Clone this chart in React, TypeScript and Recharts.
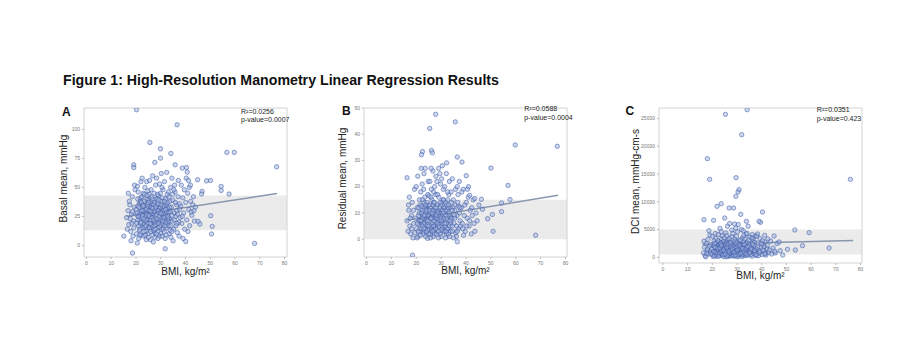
import { ScatterChart, Scatter, XAxis, YAxis, ReferenceArea, ReferenceLine } from 'recharts';

type Pt = [number, number];

const FONT = 'Liberation Sans, Arial, sans-serif';

const bmiTicks = [0, 10, 20, 30, 40, 50, 60, 70, 80];
const basalTicks = [0, 25, 50, 75, 100];
const residualTicks = [0, 10, 20, 30, 40, 50];
const dciTicks = [0, 5000, 10000, 15000, 20000, 25000];

// panel A: basal mean vs BMI
const basalCluster: Pt[] = [
  [16.2,24],[16.8,30],[17.1,18],[17.5,35],[17.9,12],[18.2,27],[18.5,42],[18.8,8],[19.0,21],[19.3,33],[19.6,48],[16.5,14],[17.3,38],[18.0,4],[19.1,15],[18.6,29],[17.7,23],[19.4,52],[16.9,45],[18.3,19],
  [20.1,31],[20.4,26],[20.7,40],[21.0,17],[21.3,36],[21.6,22],[20.2,10],[20.9,46],[21.8,29],[22.0,55],[20.5,2],[21.1,6],[21.4,13],[20.8,34],[21.9,41],[20.3,19],[21.5,27],[22.1,9],[20.6,51],[21.7,38],
  [22.3,24],[22.6,32],[22.9,45],[23.2,18],[23.5,28],[23.8,36],[24.1,12],[24.4,40],[24.7,22],[25.0,30],[22.5,58],[23.0,8],[23.6,50],[24.2,5],[24.8,47],[22.8,15],[23.3,38],[23.9,26],[24.5,33],[25.1,16],[22.4,42],[23.1,29],[23.7,21],[24.3,55],[24.9,10],[22.7,35],[23.4,44],[24.0,31],[24.6,19],[25.2,39],
  [25.4,25],[25.7,34],[26.0,14],[26.3,42],[26.6,28],[26.9,20],[27.2,37],[27.5,11],[27.8,31],[25.5,56],[25.8,5],[26.1,48],[26.4,18],[26.7,60],[27.0,3],[27.3,45],[27.6,24],[27.9,52],[25.6,30],[26.2,36],[26.8,9],[27.4,17],[28.0,40],[25.9,22],[26.5,33],[27.1,27],[27.7,7],[25.3,44],[26.0,38],[27.0,13],
  [28.2,26],[28.5,35],[28.8,15],[29.1,43],[29.4,21],[29.7,30],[30.0,10],[30.3,38],[30.6,24],[30.9,48],[28.3,58],[28.9,6],[29.5,53],[30.1,18],[30.7,33],[28.6,40],[29.2,28],[29.8,45],[30.4,14],[31.0,27],[28.4,20],[29.0,36],[29.6,8],[30.2,62],[30.8,41],[28.7,12],[29.3,32],[29.9,23],[30.5,50],[31.1,19],
  [31.3,30],[31.6,22],[31.9,40],[32.2,15],[32.5,34],[32.8,27],[33.1,46],[33.4,10],[33.7,38],[31.5,55],[31.8,6],[32.1,25],[32.4,63],[32.7,19],[33.0,32],[33.3,42],[33.6,23],[34.0,50],[31.4,12],[32.0,36],[32.6,44],[33.2,17],[33.8,29],[34.1,7],
  [34.3,33],[34.6,21],[34.9,39],[35.2,14],[35.5,28],[35.8,46],[36.1,25],[36.4,35],[36.7,11],[37.0,42],[37.3,20],[37.6,31],[34.5,58],[35.0,4],[35.6,52],[36.2,17],[36.8,27],[37.4,8],[34.8,44],[35.9,37],[37.1,56],[37.8,24],[36.5,30],[35.3,48],
  [38.1,34],[38.5,19],[38.9,41],[39.3,28],[39.7,14],[40.1,37],[40.5,22],[40.9,45],[41.3,31],[41.7,17],[42.1,38],[42.5,26],[42.9,35],[38.3,52],[39.0,6],[39.5,48],[40.3,58],[41.0,12],[41.5,50],[42.3,29],[43.2,42],[43.6,21],[44.0,33],[38.7,25],
];
const basalCore: Pt[] = [
  [20.5,28],[21.2,33],[21.9,19],[22.6,26],[23.3,12],[24.0,22],[24.7,35],[25.4,15],[26.1,27],[26.8,32],[27.5,20],[28.2,10],[28.9,30],[29.6,16],[30.3,27],[31.0,34],[31.7,17],[32.4,29],[33.1,21],[33.8,13],
  [20.8,22],[21.5,9],[22.2,37],[22.9,30],[23.6,16],[24.3,27],[25.0,7],[25.7,19],[26.4,24],[27.1,35],[27.8,14],[28.5,23],[29.2,39],[29.9,33],[30.6,8],[31.3,24],[32.0,20],[32.7,37],[33.4,28],[34.1,17],
  [21.0,25],[21.7,14],[22.4,30],[23.1,23],[23.8,9],[24.5,43],[25.2,26],[25.9,12],[26.6,40],[27.3,29],[28.0,18],[28.7,44],[29.4,25],[30.1,35],[30.8,21],[31.5,38],[32.2,9],[32.9,23],[33.6,33],[34.4,26],
  [22.0,20],[23.0,34],[24.0,17],[25.0,37],[26.0,29],[27.0,22],[28.0,33],[29.0,19],[30.0,28],[31.0,14],[32.0,31],[33.0,25],[34.5,12],[35.5,22],[36.5,19],[37.5,36],
];
const basalOutliers: Pt[] = [
  [20.2,117],[36.6,104],[25.6,88.8],[29.9,83.3],[34.1,79.3],[56.7,80.2],[59.7,80.2],[76.8,67.8],[19.1,69.5],[19.1,67.2],
  [27.6,71.6],[29.9,75.3],[35.8,69.5],[38.7,66.7],[40.4,67.2],[40.7,63.2],[44.9,56.6],[48.5,55.7],[50.1,56],[54.4,50.9],
  [54.4,47.4],[57.6,44.3],[46.7,46.6],[46.5,44.3],[50.2,25.6],[50.8,16.4],[50.5,9.8],[67.9,1.7],[18.6,-6.6],[31.8,-2.9],
  [15.1,8],[40.1,3.4],[45.1,20.7],[45.8,18.4],[43.4,29.9],[42.0,52],[41.2,56],
];
const basalBand: Pt = [13, 43];
const basalFit: Pt[] = [[16, 25], [77, 44.8]];

// panel B: residual mean vs BMI
const residualCluster: Pt[] = [
  [16.3,7],[16.7,3],[17.0,11],[17.4,5],[17.8,2],[18.1,9],[18.4,14],[18.7,0.5],[19.0,6],[19.3,19],[16.9,13],[17.6,8],[18.2,4],[18.9,11],[19.5,2.5],[17.2,16],
  [19.8,8],[20.1,4],[20.4,12],[20.7,1],[21.0,7],[21.3,15],[21.6,3],[21.9,10],[20.0,20],[20.6,24],[21.2,5.5],[21.8,18],[20.3,0.5],[20.9,9],[21.5,13],[22.0,27],
  [22.3,6],[22.6,11],[22.9,3],[23.2,14],[23.5,8],[23.8,1],[24.1,12],[24.4,5],[24.7,17],[25.0,9],[22.4,21],[22.8,2],[23.1,25],[23.4,16],[23.7,4],[24.0,7],[24.3,10],[24.6,0.3],[24.9,13],[22.5,15],[23.0,19],[23.6,27],[24.2,2.5],[24.8,22],[22.7,8.5],[23.3,6.5],[23.9,11.5],[24.5,3.5],[25.1,16.5],[22.2,12.5],
  [25.4,7],[25.7,12],[26.0,3],[26.3,15],[26.6,9],[26.9,1],[27.2,11],[27.5,5],[27.8,17],[25.5,22],[25.8,0.5],[26.1,19],[26.4,6],[26.7,26],[27.0,14],[27.3,2],[27.6,8],[27.9,24],[25.6,10],[26.2,4],[26.8,13],[27.4,20],[28.0,6.5],[25.9,16],[26.5,11],[27.1,3.5],[27.7,9.5],[25.3,5],[26.0,27],[27.0,18],
  [28.2,8],[28.5,13],[28.8,3],[29.1,16],[29.4,6],[29.7,11],[30.0,1],[30.3,14],[30.6,7],[30.9,19],[28.3,22],[28.9,0.5],[29.5,25],[30.1,9],[30.7,4],[28.6,17],[29.2,10],[29.8,21],[30.4,5],[31.0,12],[28.4,5],[29.0,27],[29.6,2],[30.2,23],[30.8,15],[28.7,11],[29.3,7],[29.9,13],[30.5,28],[31.1,3],
  [31.3,9],[31.6,5],[31.9,14],[32.2,2],[32.5,11],[32.8,7],[33.1,17],[33.4,1],[33.7,12],[31.5,20],[31.8,0.5],[32.1,25],[32.4,8],[32.7,15],[33.0,4],[33.3,22],[33.6,9],[34.0,18],[31.4,12],[32.0,6],[32.6,18],[33.2,10],[33.8,3],[34.1,14],
  [34.3,8],[34.6,3],[34.9,15],[35.2,6],[35.5,11],[35.8,19],[36.1,1],[36.4,9],[36.7,14],[37.0,4],[37.3,22],[37.6,7],[34.5,23],[35.0,0.5],[35.6,13],[36.2,5],[36.8,17],[37.4,10],[34.8,12],[35.9,2.5],[37.1,12.5],[37.8,5],[36.5,20],[35.3,9],
  [38.1,12],[38.5,6],[38.9,19],[39.3,9],[39.7,3],[40.1,14],[40.5,8],[40.9,16],[41.3,5],[41.7,11],[42.1,2],[42.5,9],[42.9,15],[38.3,18],[39.0,1.5],[39.5,13],[40.3,5],[41.0,20],[41.5,7],[42.3,12],[43.2,6],[43.6,3],[44.0,10],[38.7,4],[44.5,7],[45.2,13],
];
const residualCore: Pt[] = [
  [20.5,6],[21.2,10],[21.9,4],[22.6,8],[23.3,12],[24.0,3],[24.7,9],[25.4,13],[26.1,5],[26.8,8],[27.5,12],[28.2,2],[28.9,9],[29.6,14],[30.3,6],[31.0,8],[31.7,11],[32.4,4],[33.1,9],[33.8,6],
  [20.8,3],[21.5,7],[22.2,10],[22.9,6],[23.6,9],[24.3,14],[25.0,5],[25.7,2],[26.4,10],[27.1,7],[27.8,4],[28.5,10],[29.2,5],[29.9,8],[30.6,11],[31.3,3],[32.0,9],[32.7,12],[33.4,5],[34.1,8],
  [21.0,12],[21.7,1.5],[22.4,5],[23.1,9],[23.8,13],[24.5,7],[25.2,11],[25.9,8],[26.6,3],[27.3,14],[28.0,9],[28.7,6],[29.4,12],[30.1,3.5],[30.8,10],[31.5,6],[32.2,13],[32.9,2],[33.6,7],[34.4,11],
  [22.0,7],[23.0,4],[24.0,11],[25.0,2],[26.0,8],[27.0,5],[28.0,12],[29.0,3],[30.0,7],[31.0,15],[32.0,3],[33.0,13],[34.5,5],[35.5,8],[36.5,3],[37.5,12],
];
const residualOutliers: Pt[] = [
  [27.8,47.6],[35.7,44.7],[25.4,42.2],[59.8,35.9],[76.7,35.4],[22.5,33.4],[26.1,33.8],[26.5,32.9],[22.1,32.2],[36.5,31.3],
  [38.4,29.4],[32.2,29.1],[16.3,23.4],[40.1,24.2],[50.0,27.1],[56.9,20.5],[57.7,15.1],[54.3,13.8],[54.3,10.5],[50.6,9.4],
  [50.9,3],[68.0,1.5],[18.5,-6.1],[36.5,-1],[46.2,15.2],[48.7,7.8],[46.6,11.4],[41.5,16.7],[43.5,15.5],[40.6,19],
];
const residualBand: Pt = [0, 15];
const residualFit: Pt[] = [[16, 7.2], [77, 16.7]];

// panel C: DCI mean vs BMI
const dciCluster: Pt[] = [
  [16.4,800],[16.8,1800],[17.1,300],[17.5,2500],[17.9,1200],[18.2,3200],[18.5,600],[18.8,2000],[19.0,4000],[19.3,1000],[16.6,2900],[17.3,100],[18.0,1500],[18.6,4800],[19.4,2300],[17.7,700],
  [19.8,1400],[20.1,500],[20.4,2200],[20.7,3000],[21.0,900],[21.3,1700],[21.6,200],[21.9,2600],[20.0,3800],[20.6,1100],[21.2,4300],[21.8,600],[20.3,150],[20.9,2000],[21.5,3400],[22.0,1300],
  [22.3,700],[22.6,1900],[22.9,2800],[23.2,400],[23.5,1500],[23.8,3300],[24.1,1000],[24.4,2300],[24.7,100],[25.0,1800],[22.4,4100],[22.8,1200],[23.1,5200],[23.4,2600],[23.7,600],[24.0,3900],[24.3,1400],[24.6,2900],[24.9,800],[22.5,2100],[23.0,300],[23.6,4600],[24.2,1700],[24.8,3500],[22.7,900],[23.3,2000],[23.9,1100],[24.5,500],[25.1,2500],[22.2,3000],
  [25.4,1300],[25.7,2100],[26.0,600],[26.3,3100],[26.6,1600],[26.9,200],[27.2,2400],[27.5,900],[27.8,3700],[25.5,4400],[25.8,100],[26.1,5600],[26.4,1900],[26.7,1000],[27.0,2800],[27.3,400],[27.6,1500],[27.9,4900],[25.6,2700],[26.2,800],[26.8,3400],[27.4,1200],[28.0,2200],[25.9,3900],[26.5,500],[27.1,1800],[27.7,300],[25.3,1000],[26.0,2500],[27.0,6100],
  [28.2,1100],[28.5,2600],[28.8,500],[29.1,3300],[29.4,1700],[29.7,800],[30.0,2200],[30.3,100],[30.6,1400],[30.9,3000],[28.3,4300],[28.9,200],[29.5,5300],[30.1,1900],[30.7,700],[28.6,1500],[29.2,2900],[29.8,3800],[30.4,1000],[31.0,2500],[28.4,600],[29.0,6000],[29.6,1200],[30.2,4600],[30.8,300],[28.7,2000],[29.3,900],[29.9,2700],[30.5,5900],[31.1,1600],
  [31.3,800],[31.6,2300],[31.9,400],[32.2,3500],[32.5,1300],[32.8,2800],[33.1,600],[33.4,1900],[33.7,4200],[31.5,1000],[31.8,5000],[32.1,150],[32.4,2100],[32.7,3900],[33.0,1100],[33.3,300],[33.6,2500],[34.0,1500],[31.4,3100],[32.0,700],[32.6,1700],[33.2,3300],[33.8,900],[34.1,2700],
  [34.3,1200],[34.6,400],[34.9,2400],[35.2,3600],[35.5,900],[35.8,1800],[36.1,200],[36.4,2900],[36.7,1300],[37.0,600],[37.3,3800],[37.6,1600],[34.5,5600],[35.0,2000],[35.6,500],[36.2,4100],[36.8,2200],[37.4,900],[34.8,3100],[35.9,1400],[37.1,2700],[37.8,300],[36.5,3300],[35.3,1100],
  [38.1,1400],[38.5,2600],[38.9,700],[39.3,3400],[39.7,1800],[40.1,500],[40.5,2300],[40.9,1100],[41.3,2800],[41.7,400],[42.1,1600],[42.5,3300],[42.9,900],[38.3,4200],[39.0,1200],[39.5,6300],[40.3,3000],[41.0,1900],[41.5,700],[42.3,2100],[43.2,1300],[43.6,2900],[44.0,600],[38.7,300],[44.6,1700],[45.5,800],[46.2,2500],[47.5,1200],[48.5,400],
];
const dciCore: Pt[] = [
  [20.5,1000],[21.2,1800],[21.9,500],[22.6,1400],[23.3,2400],[24.0,700],[24.7,1600],[25.4,2200],[26.1,300],[26.8,1300],[27.5,2000],[28.2,600],[28.9,1700],[29.6,2400],[30.3,900],[31.0,1500],[31.7,2000],[32.4,500],[33.1,1200],[33.8,1800],
  [20.8,300],[21.5,900],[22.2,1600],[22.9,700],[23.6,1200],[24.3,400],[25.0,1000],[25.7,1500],[26.4,2300],[27.1,800],[27.8,1200],[28.5,300],[29.2,1000],[29.9,1800],[30.6,500],[31.3,1900],[32.0,1200],[32.7,900],[33.4,1500],[34.1,400],
  [19.5,600],[21.0,2500],[22.4,200],[23.1,1700],[23.8,2100],[24.5,1300],[25.2,600],[25.9,1800],[26.6,1100],[27.3,2600],[28.0,1500],[28.7,900],[29.4,400],[30.1,1300],[30.8,2200],[31.5,700],[32.2,1600],[32.9,2300],[33.6,600],[34.4,1900],
  [35.0,800],[35.7,1500],[36.3,2400],[37.0,1200],[37.7,500],[38.4,1800],[39.1,900],[39.8,2500],[40.5,1300],[41.2,600],[36.0,3500],[38.0,3800],[34.0,4300],[32.5,4800],
];
const dciOutliers: Pt[] = [
  [34.1,26575],[25.3,25735],[31.9,22075],[18.0,17760],[18.9,14040],[29.6,14340],[75.9,14040],[30.8,12180],[30.4,11760],[29.5,10980],
  [21.9,9180],[23.6,9660],[26.8,8880],[28.6,8880],[40.3,8160],[16.6,6780],[20.5,6660],[25.0,7080],[31.5,7740],[33.8,6480],
  [38.9,6480],[41.2,3960],[53.4,4920],[59.2,4440],[56.5,2100],[67.3,1680],[47.0,2760],[50.4,1440],[53.6,1320],[45.3,1080],[45.0,3840],
];
const dciBand: Pt = [500, 5000];
const dciFit: Pt[] = [[16, 2340], [77, 3010]];

const Dot = (p: any) => (
  <circle cx={p.cx} cy={p.cy} r={2.2} fill="#9fb0dc" fillOpacity={0.5} stroke="#3556a6" strokeOpacity={0.75} strokeWidth={0.7} />
);

interface PanelProps {
  points: Pt[];
  band: Pt;
  fit: Pt[];
  xDomain: [number, number];
  yDomain: [number, number];
  yTicks: number[];
  yTitle: string;
  left: number;
  top: number;
  plotH: number;
  yTitleX: number;
  xTitleOffset: number;
}

function Panel({ points, band, fit, xDomain, yDomain, yTicks, yTitle, left, top, plotH, yTitleX, xTitleOffset }: PanelProps) {
  const data = points.map(([x, y]) => ({ x, y }));
  return (
    <div style={{ position: 'absolute', left, top }}>
      <ScatterChart width={261} height={10 + plotH + 30} margin={{ top: 10, right: 8, bottom: 0, left: 0 }}>
        <XAxis
          type="number"
          dataKey="x"
          domain={xDomain}
          ticks={bmiTicks}
          interval={0}
          allowDataOverflow
          axisLine={false}
          tickLine={{ stroke: '#bbb' }}
          tickSize={2}
          tick={{ fontSize: 5, fill: '#777', fontFamily: FONT }}
          height={30}
          label={{ value: 'BMI, kg/m²', position: 'insideBottom', offset: xTitleOffset, style: { fontSize: 10, fill: '#222', fontFamily: FONT } }}
        />
        <YAxis
          type="number"
          dataKey="y"
          domain={yDomain}
          ticks={yTicks}
          interval={0}
          allowDataOverflow
          axisLine={false}
          tickLine={{ stroke: '#bbb' }}
          tickSize={2}
          tick={{ fontSize: 5, fill: '#777', fontFamily: FONT }}
          width={50}
          label={{ value: yTitle, angle: -90, position: 'insideLeft', offset: yTitleX, dy: -4, style: { textAnchor: 'middle', fontSize: 10, fill: '#222', fontFamily: FONT } }}
        />
        <ReferenceArea y1={band[0]} y2={band[1]} fill="#ebebeb" fillOpacity={1} stroke="none" />
        <Scatter data={data} shape={Dot} isAnimationActive={false} />
        <ReferenceLine
          segment={[{ x: fit[0][0], y: fit[0][1] }, { x: fit[1][0], y: fit[1][1] }]}
          stroke="#8797ad"
          strokeWidth={1.5}
        />
        <ReferenceArea x1={xDomain[0]} x2={xDomain[1]} y1={yDomain[0]} y2={yDomain[1]} fill="none" fillOpacity={0} stroke="#d2d2d2" />
      </ScatterChart>
    </div>
  );
}

export default function App() {
  return (
    <div style={{ position: 'absolute', left: 0, top: 0, width: 904, height: 356, background: '#fff', overflow: 'hidden' }}>
      <Panel
        points={[...basalCluster, ...basalCore, ...basalOutliers]}
        band={basalBand}
        fit={basalFit}
        xDomain={[-1, 81]}
        yDomain={[-10, 118.5]}
        yTicks={basalTicks}
        yTitle="Basal mean, mmHg"
        left={34}
        top={98}
        plotH={149}
        yTitleX={29}
        xTitleOffset={12}
      />
      <Panel
        points={[...residualCluster, ...residualCore, ...residualOutliers]}
        band={residualBand}
        fit={residualFit}
        xDomain={[-1, 80.6]}
        yDomain={[-6.8, 50]}
        yTicks={residualTicks}
        yTitle="Residual mean, mmHg"
        left={314}
        top={98}
        plotH={149}
        yTitleX={28}
        xTitleOffset={13}
      />
      <Panel
        points={[...dciCluster, ...dciCore, ...dciOutliers]}
        band={dciBand}
        fit={dciFit}
        xDomain={[-1.6, 80.6]}
        yDomain={[-1020, 26880]}
        yTicks={dciTicks}
        yTitle="DCI mean, mmHg-cm-s"
        left={609}
        top={98}
        plotH={155}
        yTitleX={26}
        xTitleOffset={14}
      />
      <svg width={904} height={356} style={{ position: 'absolute', left: 0, top: 0, pointerEvents: 'none' }}>
        <text x={63} y={85} fontSize={14.2} fontWeight="bold" fontFamily={FONT} fill="#111">
          Figure 1: High-Resolution Manometry Linear Regression Results
        </text>
        <text x={62} y={116} fontSize={12} fontWeight="bold" fontFamily={FONT} fill="#111">A</text>
        <text x={342} y={114.5} fontSize={12} fontWeight="bold" fontFamily={FONT} fill="#111">B</text>
        <text x={625.5} y={115} fontSize={12} fontWeight="bold" fontFamily={FONT} fill="#111">C</text>
        <text x={241} y={113.5} fontSize={7} fontFamily={FONT} fill="#222">R²=0.0256</text>
        <text x={241} y={121.8} fontSize={7} fontFamily={FONT} fill="#222">p-value=0.0007</text>
        <text x={524.3} y={110.5} fontSize={7} fontFamily={FONT} fill="#222">R²=0.0588</text>
        <text x={524.3} y={119.8} fontSize={7} fontFamily={FONT} fill="#222">p-value=0.0004</text>
        <text x={816.7} y={111.8} fontSize={7} fontFamily={FONT} fill="#222">R²=0.0351</text>
        <text x={816.7} y={121.3} fontSize={7} fontFamily={FONT} fill="#222">p-value=0.423</text>
      </svg>
    </div>
  );
}
